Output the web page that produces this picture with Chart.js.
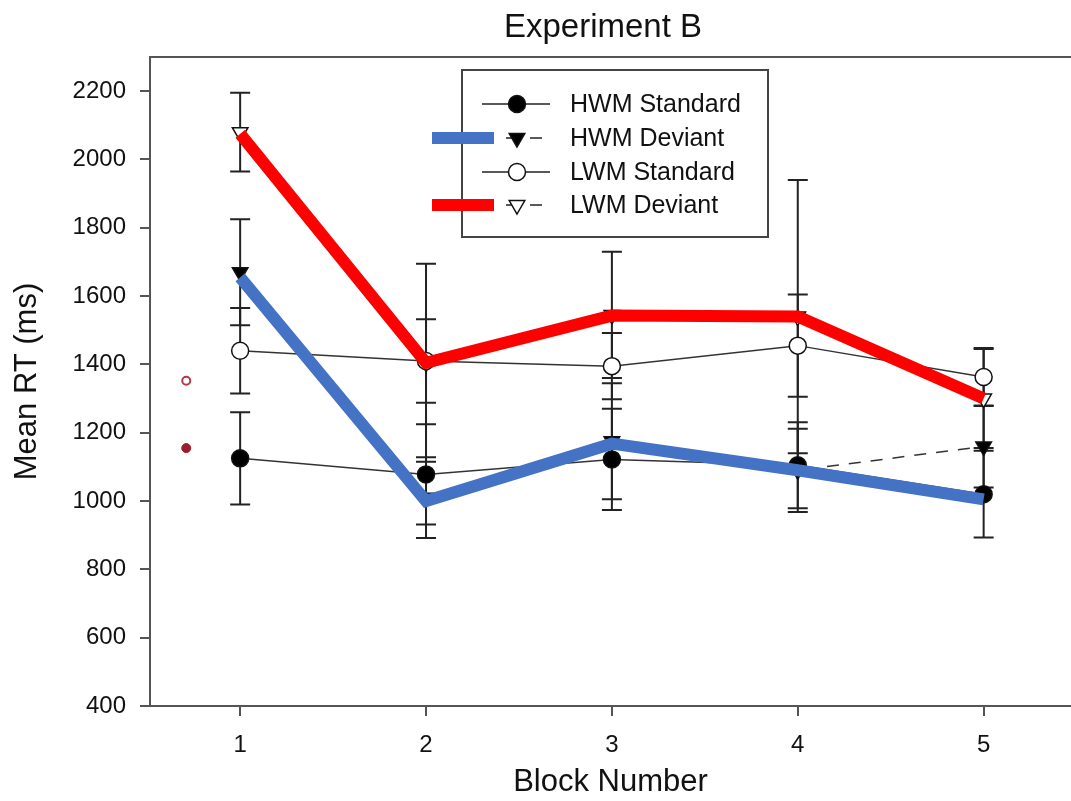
<!DOCTYPE html>
<html>
<head>
<meta charset="utf-8">
<title>Experiment B</title>
<script src="https://cdn.jsdelivr.net/npm/chart.js@4.4.1/dist/chart.umd.min.js"></script>
<style>
  html, body { margin: 0; padding: 0; background: #fff; }
  #wrap { width: 1071px; height: 801px; }
</style>
</head>
<body>
<div id="wrap"><canvas id="rtChart" width="1071" height="801"></canvas></div>
<script>
var chartTitle = 'Experiment B';
var xTitle = 'Block Number';
var yTitle = 'Mean RT (ms)';

var blocks = [1, 2, 3, 4, 5];
var xTicks = [1, 2, 3, 4, 5];
var yTicks = [400, 600, 800, 1000, 1200, 1400, 1600, 1800, 2000, 2200];

// means and error bar half-lengths (ms)
var hwmStandard = [1125, 1078, 1122, 1105, 1020];
var hwmStandardErr = [135, 147, 148, 126, 127];
var hwmDeviant = [1670, 1010, 1175, 1090, 1160];
var hwmDeviantErr = [155, 118, 170, 122, 120];
var lwmStandard = [1440, 1410, 1395, 1455, 1363];
var lwmStandardErr = [125, 122, 97, 150, 85];
var lwmDeviant = [2080, 1405, 1545, 1540, 1300];
var lwmDeviantErr = [115, 290, 185, 400, 145];

// thick overlay lines drawn on top of the figure
var blueLine = [1655, 1000, 1168, 1090, 1005];
var redLine = [2075, 1405, 1543, 1540, 1300];

// two small red marks left of block 1
var markBlock = [0.71];
var markOpen = [1352];
var markFilled = [1155];

function pts(xs, ys) {
    return ys.map(function (v, i) { return { x: xs[i], y: v }; });
}

var FONT = '"Liberation Sans", Arial, Helvetica, sans-serif';

var errorBars = {
    id: 'errorBars',
    beforeDatasetsDraw: function (chart) {
        var ctx = chart.ctx, xs = chart.scales.x, ys = chart.scales.y;
        ctx.save();
        ctx.strokeStyle = '#222';
        ctx.lineWidth = 2;
        chart.data.datasets.forEach(function (ds) {
            if (!ds.errors) return;
            ds.data.forEach(function (p, i) {
                var x = xs.getPixelForValue(p.x);
                var top = ys.getPixelForValue(p.y + ds.errors[i]);
                var bot = ys.getPixelForValue(p.y - ds.errors[i]);
                ctx.beginPath();
                ctx.moveTo(x, top); ctx.lineTo(x, bot);
                ctx.moveTo(x - 10, top); ctx.lineTo(x + 10, top);
                ctx.moveTo(x - 10, bot); ctx.lineTo(x + 10, bot);
                ctx.stroke();
            });
        });
        ctx.restore();
    }
};

var legendBox = {
    id: 'legendBox',
    afterDraw: function (chart) {
        var ctx = chart.ctx, a = chart.chartArea;
        ctx.save();

        // title
        ctx.fillStyle = '#111';
        ctx.font = '33px ' + FONT;
        ctx.textAlign = 'center';
        ctx.textBaseline = 'middle';
        ctx.fillText(chartTitle, 603, 28);

        // top frame line
        ctx.strokeStyle = '#555';
        ctx.lineWidth = 2;
        ctx.beginPath();
        ctx.moveTo(a.left, a.top);
        ctx.lineTo(a.right, a.top);
        ctx.stroke();

        // legend frame
        ctx.fillStyle = '#fff';
        ctx.fillRect(462, 70, 306, 167);
        ctx.strokeStyle = '#444';
        ctx.strokeRect(462, 70, 306, 167);

        var rows = [104, 138, 172, 205];
        chart.data.datasets.forEach(function (ds) {
            if (ds.legendRow === undefined) return;
            var y = rows[ds.legendRow];
            ctx.strokeStyle = '#222';
            ctx.lineWidth = 1.5;
            ctx.setLineDash(ds.borderDash.length ? [12, 12] : []);
            ctx.beginPath();
            ctx.moveTo(482, y);
            ctx.lineTo(ds.borderDash.length ? 542 : 550, y);
            ctx.stroke();
            ctx.setLineDash([]);
            ctx.fillStyle = ds.pointBackgroundColor;
            ctx.strokeStyle = ds.pointBorderColor;
            ctx.lineWidth = ds.pointBorderWidth;
            Chart.helpers.drawPoint(ctx, {
                pointStyle: ds.pointStyle,
                radius: ds.pointRadius,
                rotation: ds.pointRotation || 0,
                borderWidth: ds.pointBorderWidth
            }, 517, y);
            ctx.fillStyle = '#111';
            ctx.font = '25px ' + FONT;
            ctx.textAlign = 'left';
            ctx.textBaseline = 'middle';
            ctx.fillText(ds.label, 570, y + 1);
        });

        // coloured bars that stick out of the legend
        chart.data.datasets.forEach(function (ds) {
            if (ds.barRow === undefined) return;
            var y = rows[ds.barRow];
            ctx.strokeStyle = ds.borderColor;
            ctx.lineWidth = 12;
            ctx.lineCap = 'butt';
            ctx.beginPath();
            ctx.moveTo(432, y);
            ctx.lineTo(494, y);
            ctx.stroke();
        });
        ctx.restore();
    }
};

function blackSeries(label, values, errs, filled, triangle, dashed, row) {
    return {
        label: label,
        data: pts(blocks, values),
        errors: errs,
        legendRow: row,
        borderColor: '#333',
        borderWidth: 1.5,
        borderDash: dashed ? [12, 10] : [],
        pointStyle: triangle ? 'triangle' : 'circle',
        pointRotation: triangle ? 180 : 0,
        pointRadius: triangle ? 9 : 8.5,
        pointBackgroundColor: filled ? '#000' : '#fff',
        pointBorderColor: '#111',
        pointBorderWidth: 1.5,
        tension: 0,
        order: 2
    };
}

function plainTick(v) { return String(v); }

var ctx = document.getElementById('rtChart').getContext('2d');
new Chart(ctx, {
    type: 'line',
    data: {
        datasets: [
            blackSeries('HWM Standard', hwmStandard, hwmStandardErr, true, false, false, 0),
            blackSeries('HWM Deviant', hwmDeviant, hwmDeviantErr, true, true, true, 1),
            blackSeries('LWM Standard', lwmStandard, lwmStandardErr, false, false, false, 2),
            blackSeries('LWM Deviant', lwmDeviant, lwmDeviantErr, false, true, true, 3),
            {
                label: 'HWM Deviant overlay',
                data: pts(blocks, blueLine),
                barRow: 1,
                borderColor: '#4472C4',
                borderWidth: 12,
                borderJoinStyle: 'miter',
                borderCapStyle: 'butt',
                pointRadius: 0,
                order: 0
            },
            {
                label: 'LWM Deviant overlay',
                data: pts(blocks, redLine),
                barRow: 3,
                borderColor: '#FF0000',
                borderWidth: 12,
                borderJoinStyle: 'miter',
                borderCapStyle: 'butt',
                pointRadius: 0,
                order: 0
            },
            {
                label: 'mark open',
                data: pts(markBlock, markOpen),
                showLine: false,
                pointRadius: 4,
                pointBackgroundColor: '#fff',
                pointBorderColor: '#b23a4a',
                pointBorderWidth: 2,
                order: 1
            },
            {
                label: 'mark filled',
                data: pts(markBlock, markFilled),
                showLine: false,
                pointRadius: 4.5,
                pointBackgroundColor: '#9e1b2c',
                pointBorderColor: '#9e1b2c',
                pointBorderWidth: 1,
                order: 1
            }
        ]
    },
    options: {
        responsive: false,
        devicePixelRatio: 1,
        animation: false,
        events: [],
        layout: { autoPadding: false, padding: { top: 57, right: 0, left: 0, bottom: 0 } },
        plugins: {
            legend: { display: false },
            title: { display: false },
            tooltip: { enabled: false }
        },
        scales: {
            x: {
                type: 'linear',
                min: 0.515,
                max: 5.47,
                afterFit: function (scale) { scale.height = 95; },
                afterBuildTicks: function (scale) {
                    scale.ticks = xTicks.map(function (v) { return { value: v }; });
                },
                grid: { drawOnChartArea: false, drawTicks: true, tickLength: 10, tickColor: '#555', lineWidth: 2 },
                border: { display: true, color: '#555', width: 2 },
                ticks: { color: '#111', padding: 15, font: { family: FONT, size: 24 }, callback: plainTick },
                title: {
                    display: true, text: xTitle, color: '#111',
                    font: { family: FONT, size: 31 }, padding: { top: 0, bottom: 0 }
                }
            },
            y: {
                type: 'linear',
                min: 400,
                max: 2300,
                afterFit: function (scale) { scale.width = 150; },
                afterBuildTicks: function (scale) {
                    scale.ticks = yTicks.map(function (v) { return { value: v }; });
                },
                grid: { drawOnChartArea: false, drawTicks: true, tickLength: 10, tickColor: '#555', lineWidth: 2 },
                border: { display: true, color: '#555', width: 2 },
                ticks: { color: '#111', padding: 14, font: { family: FONT, size: 24 }, callback: plainTick },
                title: {
                    display: true, text: yTitle, color: '#111',
                    font: { family: FONT, size: 31 }, padding: { top: 9, bottom: 0 }
                }
            }
        }
    },
    plugins: [errorBars, legendBox]
});
</script>
</body>
</html>
